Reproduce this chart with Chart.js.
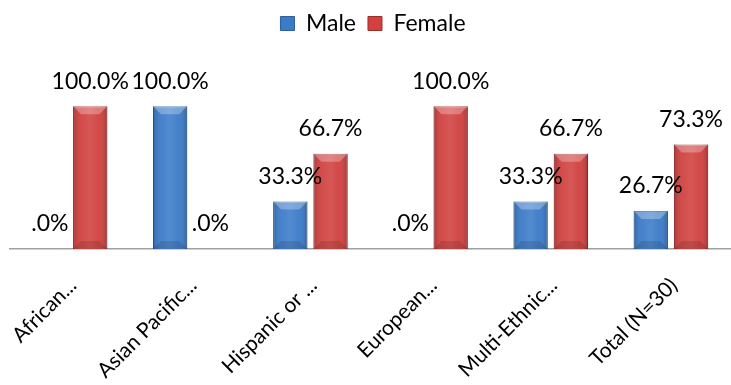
<!DOCTYPE html>
<html lang="en">
<head>
<meta charset="UTF-8">
<title>Gender by ethnicity</title>
<script src="https://cdn.jsdelivr.net/npm/chart.js@4.4.1/dist/chart.umd.min.js"></script>
<style>
  * { margin: 0; padding: 0; box-sizing: border-box; }
  body { background: #fff; }
  .wrap { position: relative; width: 731px; height: 385px; }
</style>
</head>
<body>
<div class="wrap"><canvas id="chart"></canvas></div>
<script>
const categories = ['African...', 'Asian Pacific...', 'Hispanic or ...', 'European...', 'Multi-Ethnic...', 'Total (N=30)'];
const male = [0, 100, 33.3, 0, 33.3, 26.7];
const female = [100, 0, 66.7, 100, 66.7, 73.3];

const FONT = 'Lato, "Open Sans", sans-serif';

// Excel-style bevel on each bar
const bevel = {
  id: 'bevel',
  afterDatasetsDraw(chart) {
    const ctx = chart.ctx;
    chart.data.datasets.forEach((ds, i) => {
      chart.getDatasetMeta(i).data.forEach(bar => {
        const h = bar.base - bar.y;
        if (h <= 0) return;
        const l = bar.x - bar.width / 2, r = bar.x + bar.width / 2;
        const t = bar.y, b = bar.base;
        const d = Math.min(8, h / 2);
        ctx.save();
        const g = ctx.createLinearGradient(l, 0, r, 0);
        g.addColorStop(0, 'rgba(0,0,0,0.18)');
        g.addColorStop(0.25, 'rgba(255,255,255,0.06)');
        g.addColorStop(0.5, 'rgba(255,255,255,0.12)');
        g.addColorStop(0.75, 'rgba(255,255,255,0.04)');
        g.addColorStop(1, 'rgba(0,0,0,0.22)');
        ctx.fillStyle = g;
        ctx.fillRect(l, t, r - l, h);
        // top facet
        ctx.beginPath();
        ctx.moveTo(l, t); ctx.lineTo(r, t); ctx.lineTo(r - d, t + d); ctx.lineTo(l + d, t + d);
        ctx.closePath();
        ctx.fillStyle = 'rgba(255,255,255,0.28)';
        ctx.fill();
        // bottom facet
        ctx.beginPath();
        ctx.moveTo(l, b); ctx.lineTo(r, b); ctx.lineTo(r - d, b - d); ctx.lineTo(l + d, b - d);
        ctx.closePath();
        ctx.fillStyle = 'rgba(0,0,0,0.12)';
        ctx.fill();
        ctx.restore();
      });
    });
  }
};

const valueLabels = {
  id: 'valueLabels',
  afterDatasetsDraw(chart) {
    const ctx = chart.ctx;
    ctx.save();
    ctx.font = '23px ' + FONT;
    ctx.fillStyle = '#000';
    ctx.textAlign = 'center';
    ctx.textBaseline = 'middle';
    chart.data.datasets.forEach((ds, i) => {
      chart.getDatasetMeta(i).data.forEach((bar, j) => {
        const v = ds.data[j];
        const txt = v === 0 ? '.0%' : v.toFixed(1) + '%';
        ctx.fillText(txt, bar.x, bar.y - 25);
      });
    });
    ctx.restore();
  }
};

new Chart(document.getElementById('chart'), {
  type: 'bar',
  data: {
    labels: categories,
    datasets: [
      { label: 'Male', data: male, backgroundColor: '#3b7bc8', borderColor: '#2b5f9e', borderWidth: 1 },
      { label: 'Female', data: female, backgroundColor: '#d0413f', borderColor: '#9c2c2a', borderWidth: 1 }
    ]
  },
  options: {
    responsive: true,
    maintainAspectRatio: false,
    animation: false,
    categoryPercentage: 0.67,
    barPercentage: 0.852,
    layout: { padding: { left: 10, right: -5, top: 0, bottom: 0 } },
    plugins: {
      legend: {
        position: 'top',
        labels: { font: { family: FONT, size: 23 }, color: '#000', boxWidth: 14, boxHeight: 14, padding: 12 }
      },
      tooltip: { enabled: false }
    },
    scales: {
      x: {
        grid: { display: false },
        border: { color: '#a0a0a0', width: 1.5 },
        ticks: { font: { family: FONT, size: 21 }, color: '#000', maxRotation: 45, minRotation: 45, labelOffset: 3, padding: 16, autoSkip: false },
        afterFit(s) { s.height = 136; s.paddingLeft = 0; s.paddingRight = 0; }
      },
      y: { display: false, min: 0, max: 143 }
    }
  },
  plugins: [bevel, valueLabels]
});
</script>
</body>
</html>
